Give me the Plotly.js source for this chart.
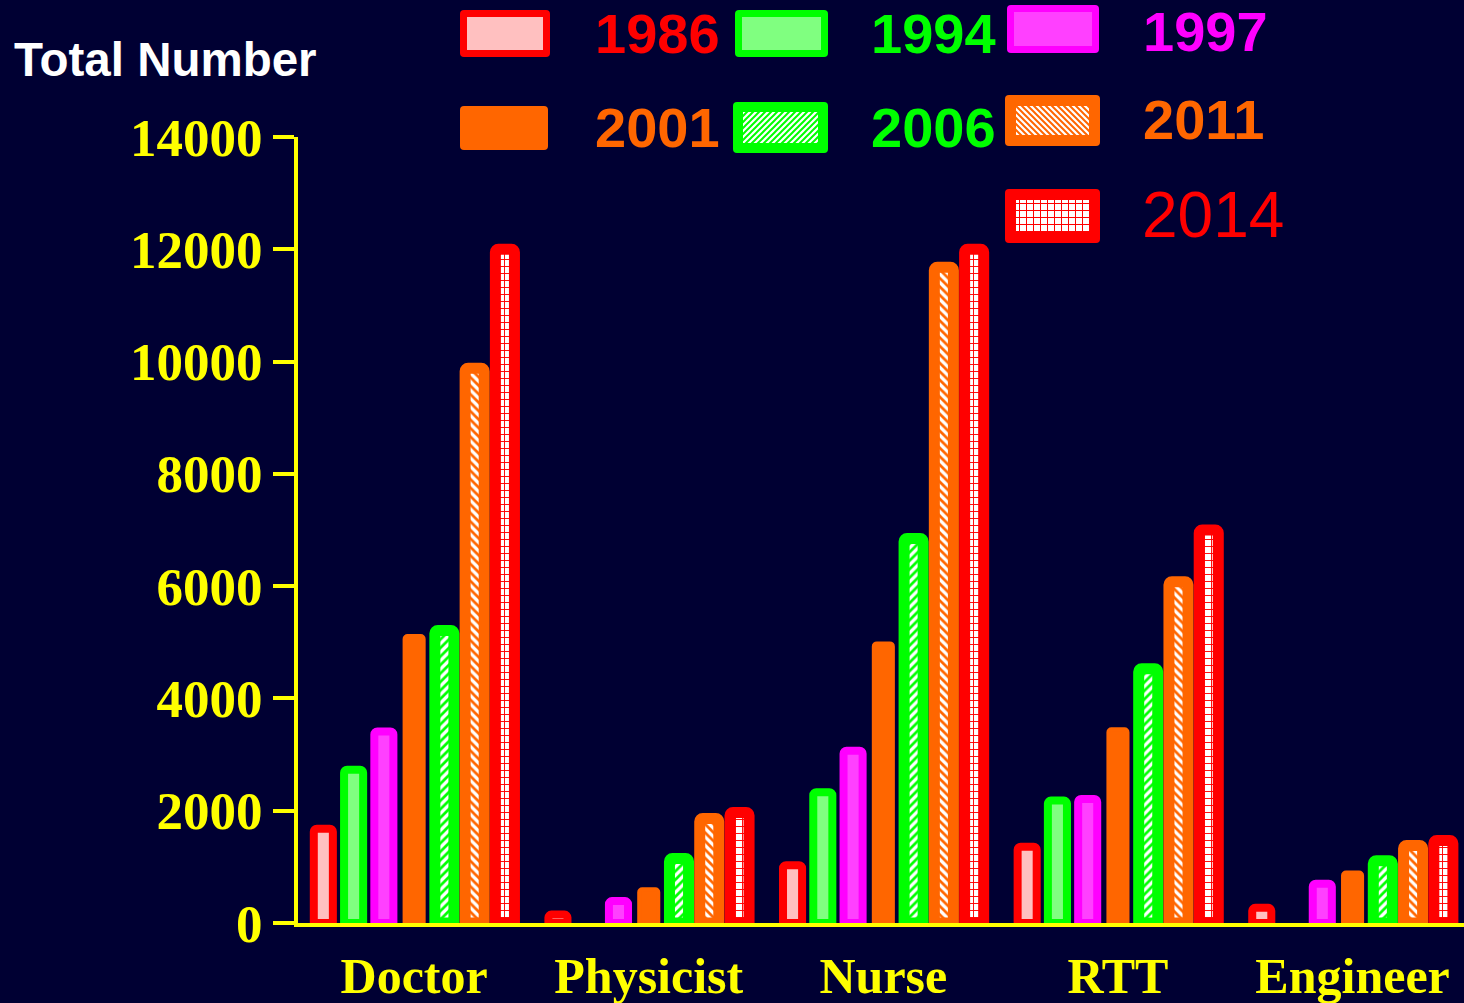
<!DOCTYPE html>
<html>
<head>
<meta charset="utf-8">
<script src="https://cdn.plot.ly/plotly-3.0.1.min.js"></script>
<style>
html,body{margin:0;padding:0;background:#000033;}
#chart{width:1464px;height:1003px;}
</style>
</head>
<body>
<div id="chart"></div>
<script>
// ---- data ----
const categories = ['Doctor', 'Physicist', 'Nurse', 'RTT', 'Engineer'];
const years = ['1986', '1994', '1997', '2001', '2006', '2011', '2014'];
const v1986 = [1680, 150, 1030, 1360, 270];
const v1994 = [2730, null, 2330, 2180, null];
const v1997 = [3410, 390, 3070, 2210, 700];
const v2001 = [5110, 600, 4980, 3450, 900];
const v2006 = [5210, 1150, 6850, 4530, 1110];
const v2011 = [9880, 1860, 11680, 6080, 1380];
const v2014 = [12000, 1970, 12000, 7000, 1470];
const yTicks = [0, 2000, 4000, 6000, 8000, 10000, 12000, 14000];

const values = [v1986, v1994, v1997, v2001, v2006, v2011, v2014];

// ---- styles ----
const RED = '#ff0000', GREEN = '#00ff00', MAG = '#ff00ff', ORANGE = '#ff6600';
const styles = [
  {line: RED, lw: 8, fill: '#ffc0c0'},
  {line: GREEN, lw: 8, fill: '#80ff80'},
  {line: MAG, lw: 8, fill: '#ff40ff'},
  {line: ORANGE, lw: 4, fill: ORANGE},
  {line: GREEN, lw: 11, fill: GREEN, pattern: {shape: '/', fgcolor: GREEN, bgcolor: '#ffffff', size: 6, solidity: 0.45, fillmode: 'replace'}},
  {line: ORANGE, lw: 11, fill: ORANGE, pattern: {shape: '\\', fgcolor: ORANGE, bgcolor: '#ffffff', size: 6, solidity: 0.45, fillmode: 'replace'}},
  {line: RED, lw: 11, fill: RED, pattern: {shape: '+', fgcolor: RED, bgcolor: '#ffffff', size: 7, solidity: 0.25, fillmode: 'replace'}}
];

const traces = years.map((yr, i) => {
  const s = styles[i];
  const marker = {color: s.fill, line: {color: s.line, width: s.lw}, cornerradius: 3};
  if (s.pattern) marker.pattern = s.pattern;
  return {type: 'bar', name: yr, x: categories, y: values[i], marker: marker,
          showlegend: false, hoverinfo: 'x+y+name'};
});

// ---- pixel -> paper helpers ----
const L = 298, T = 137, W = 1166, H = 786;
const px = x => (x - L) / W;
const py = y => (T + H - y) / H;

function swatchSVG(w, h, bw, border, fill, pat, pcol) {
  let defs = '', inner = fill;
  if (pat) {
    let content;
    if (pat === '/') content = `<rect width="6" height="6" fill="#fff"/><path d="M-1,7 L7,-1 M-4,4 L4,-4 M2,10 L10,2" stroke="${pcol}" stroke-width="2"/>`;
    else if (pat === '\\') content = `<rect width="6" height="6" fill="#fff"/><path d="M-1,-1 L7,7 M2,-4 L10,4 M-4,2 L4,10" stroke="${pcol}" stroke-width="2"/>`;
    else content = `<rect width="7" height="7" fill="#fff"/><path d="M0,0 H7 M0,0 V7" stroke="${pcol}" stroke-width="2"/>`;
    const sz = pat === '+' ? 7 : 6;
    defs = `<defs><pattern id="p" width="${sz}" height="${sz}" patternUnits="userSpaceOnUse">${content}</pattern></defs>`;
    inner = 'url(#p)';
  }
  const svg = `<svg xmlns="http://www.w3.org/2000/svg" width="${w}" height="${h}" viewBox="0 0 ${w} ${h}">${defs}` +
    `<rect x="0" y="0" width="${w}" height="${h}" rx="4" fill="${border}"/>` +
    (bw > 0 ? `<rect x="${bw}" y="${bw}" width="${w - 2 * bw}" height="${h - 2 * bw}" fill="${inner}"/>` : '') +
    `</svg>`;
  return 'data:image/svg+xml;base64,' + btoa(svg);
}

// legend layout (pixel boxes)
const legendItems = [
  {x: 460, y: 10, w: 90, h: 47, bw: 7, tx: 593, ty: 34, bold: true, size: 56},
  {x: 735, y: 10, w: 93, h: 47, bw: 7, tx: 869, ty: 34, bold: true, size: 56},
  {x: 1007, y: 5, w: 92, h: 48, bw: 7, tx: 1141, ty: 32, bold: true, size: 56},
  {x: 460, y: 106, w: 88, h: 44, bw: 0, tx: 593, ty: 128, bold: true, size: 56},
  {x: 733, y: 102, w: 95, h: 51, bw: 10, tx: 869, ty: 128, bold: true, size: 56},
  {x: 1005, y: 95, w: 95, h: 51, bw: 11, tx: 1141, ty: 119, bold: true, size: 56},
  {x: 1005, y: 189, w: 95, h: 54, bw: 11, tx: 1140, ty: 215, bold: false, size: 64}
];
const legendTextColors = [RED, GREEN, MAG, ORANGE, GREEN, ORANGE, RED];
const patShapes = [null, null, null, null, '/', '\\', '+'];

const images = legendItems.map((it, i) => ({
  source: swatchSVG(it.w, it.h, it.bw, styles[i].line, styles[i].fill, patShapes[i], styles[i].line),
  xref: 'paper', yref: 'paper', x: px(it.x), y: py(it.y),
  sizex: it.w / W, sizey: it.h / H, xanchor: 'left', yanchor: 'top',
  sizing: 'stretch', layer: 'above'
}));

const annotations = legendItems.map((it, i) => ({
  text: years[i], xref: 'paper', yref: 'paper', x: px(it.tx), y: py(it.ty),
  xanchor: 'left', yanchor: 'middle', showarrow: false,
  font: {family: 'Liberation Sans, Arial, sans-serif', size: it.size, color: legendTextColors[i], weight: it.bold ? 'bold' : 'normal'}
}));
annotations.push({
  text: 'Total Number', xref: 'paper', yref: 'paper', x: px(12), y: py(60),
  xanchor: 'left', yanchor: 'middle', showarrow: false,
  font: {family: 'Liberation Sans, Arial, sans-serif', size: 47.5, color: '#ffffff', weight: 'bold'}
});

const tickFont = {family: 'Liberation Serif, Times New Roman, serif', size: 53, color: '#ffff00', weight: 'bold'};
const xTickFont = {family: 'Liberation Serif, Times New Roman, serif', size: 50, color: '#ffff00', weight: 'bold'};

const layout = {
  width: 1464, height: 1003,
  margin: {l: L, r: 0, t: T, b: 1003 - T - H, pad: 0},
  paper_bgcolor: '#000033', plot_bgcolor: '#000033',
  barmode: 'group', bargap: 0.097, bargroupgap: 0.37,
  showlegend: false,
  xaxis: {
    type: 'category', range: [-0.495, 4.475], showgrid: false, zeroline: false,
    showline: true, linecolor: '#ffff00', linewidth: 4, ticks: '',
    tickfont: xTickFont, ticklabelstandoff: 6, fixedrange: true
  },
  yaxis: {
    range: [0, 14000], tickvals: yTicks, ticktext: yTicks.map(String),
    showgrid: false, zeroline: false, showline: true, linecolor: '#ffff00', linewidth: 4,
    ticks: 'outside', ticklen: 21, tickwidth: 4, tickcolor: '#ffff00',
    tickfont: tickFont, ticklabelstandoff: 0, fixedrange: true
  },
  images: images,
  annotations: annotations
};

Plotly.newPlot('chart', traces, layout, {displayModeBar: false, staticPlot: true});
</script>
</body>
</html>
